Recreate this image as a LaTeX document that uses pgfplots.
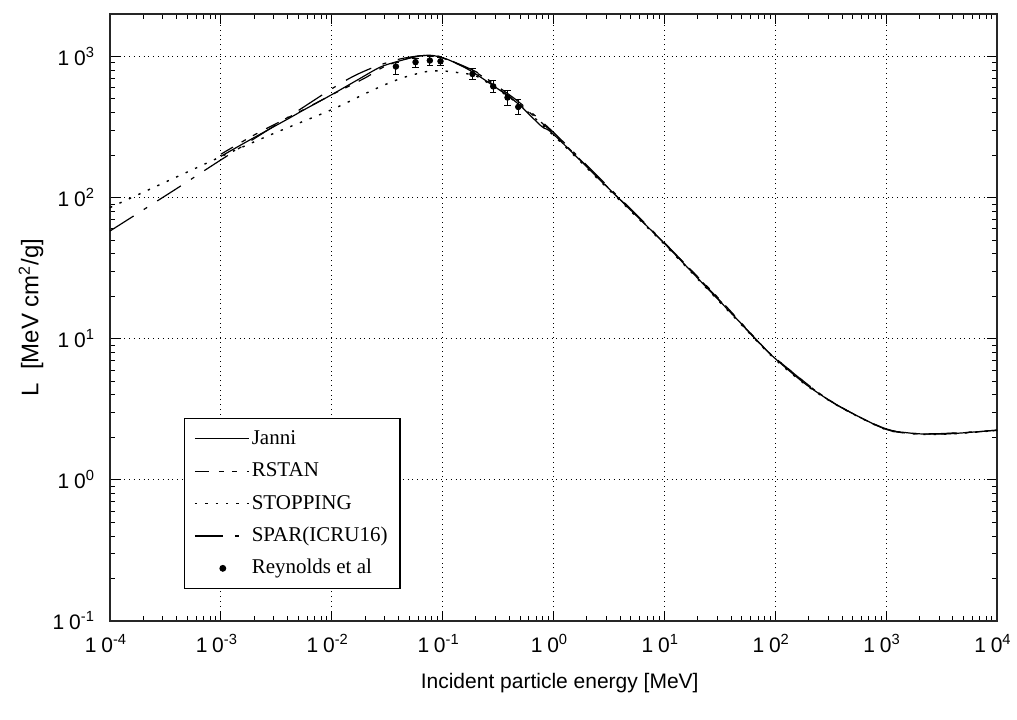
\documentclass[border=0pt]{standalone}
\usepackage{fontspec}
\setmainfont{Liberation Sans}
\newfontfamily\legfont{Liberation Serif}
\usepackage{pgfplots}
\pgfplotsset{compat=1.18}
\newcommand{\tl}[1]{1\kern2.4pt0\textsuperscript{#1}}
\begin{document}
\begin{tikzpicture}
\path[use as bounding box] (-55pt,-49pt) rectangle (453.5pt,310.5pt);
\begin{axis}[
  width=443.5pt, height=303.5pt, scale only axis,
  xmode=log, ymode=log,
  xmin=1e-4, xmax=1e4, ymin=0.1, ymax=2000,
  xtick={1e-4,1e-3,1e-2,1e-1,1,10,100,1000,10000},
  xticklabels={\tl{-4},\tl{-3},\tl{-2},\tl{-1},\tl{0},\tl{1},\tl{2},\tl{3},\tl{4}},
  ytick={0.1,1,10,100,1000},
  yticklabels={\tl{-1},\tl{0},\tl{1},\tl{2},\tl{3}},
  ticklabel style={font=\fontsize{10.5}{12}\selectfont},
  xticklabel style={yshift=-3pt, xshift=-2pt},
  yticklabel style={xshift=-4pt},
  grid=major,
  major grid style={dotted, black, line width=0.5pt},
  tick align=inside,
  major tick length=5pt, minor tick length=2.5pt,
  every tick/.style={black, line width=0.5pt},
  axis line style={line width=0.7pt, black!85},
  xlabel={Incident particle energy [MeV]},
  ylabel={L\ \ [MeV cm\textsuperscript{2}/g]},
  xlabel style={font=\fontsize{10.5}{12}\selectfont, at={(axis description cs:0.507,-0.102)}, anchor=center},
  ylabel style={font=\fontsize{12}{14}\selectfont, at={(axis description cs:-0.089,0.5)}, anchor=center},
  legend cell align=left,
  legend style={at={(axis description cs:0.083,0.053)}, anchor=south west,
    draw=black, line width=0.6pt, fill=white, font=\legfont\fontsize{10.5}{12}\selectfont,
    nodes={text height=7.5pt, text depth=2pt, inner sep=1.2pt},
    row sep=4.3pt, inner xsep=5pt, inner ysep=4pt},
  legend image code/.code={\draw[#1, line width=0.6pt] (0pt,0pt) -- (27pt,0pt);},
]
% Janni
\addplot[black, line width=0.6pt, smooth] coordinates {
(0.001,196) (0.00171,249) (0.0042,368) (0.0055,415) (0.00964,528) (0.017,681)
(0.0272,839) (0.0385,918) (0.0583,1000) (0.0767,1020) (0.0946,992) (0.1164,938)
(0.176,798) (0.286,621) (0.465,472) (0.78,320) (1.0,281) (3.01,120) (9.7,48.5)
(24,23.1) (48,13.1) (68,9.8) (95,7.5) (191,4.72) (382,3.31) (953,2.31)
(1528,2.16) (2312,2.11) (4027,2.13) (10000,2.25)};
\addlegendentry{Janni}
% RSTAN
\addplot[black, line width=0.6pt, smooth, dash pattern=on 7pt off 5pt on 2.5pt off 4pt on 2.5pt off 5pt] coordinates {
(0.001,203) (0.002,278) (0.005,402) (0.01,535) (0.02,705) (0.03,850) (0.05,975)
(0.07,1010) (0.1,975) (0.2,770) (0.3,612) (0.5,455) (1,285) (3,121) (10,47.5)
(30,19.8) (70,9.6) (100,7.3) (300,3.72) (1000,2.29) (2500,2.11) (10000,2.24)};
\addlegendentry{RSTAN}
% STOPPING
\addplot[black, line width=0.7pt, smooth, dash pattern=on 1.2pt off 4pt] coordinates {
(0.0001,85) (0.001,195) (0.003,285) (0.01,420) (0.02,545) (0.03,630) (0.045,712)
(0.0718,782) (0.1,790) (0.142,766) (0.2,728) (0.3,598) (0.5,450) (1.0,276)
(3.01,118) (9.7,47.8) (24,22.8) (48,12.9) (95,7.4) (191,4.68) (382,3.29)
(953,2.30) (1528,2.15) (2312,2.10) (4027,2.12) (10000,2.24)};
\addlegendentry{STOPPING}
% SPAR
\addplot[black, line width=0.6pt, smooth, dash pattern=on 14pt off 6pt on 2pt off 6pt] coordinates {
(0.0001,58) (0.0004,116) (0.001,185) (0.004,370) (0.01,590) (0.016,730) (0.025,850)
(0.04,955) (0.06,1008) (0.08,1015) (0.1,985) (0.2,780) (0.3,628) (0.5,468) (1,290)
(3,123) (10,48) (30,19.5) (70,9.5) (100,7.3) (300,3.7) (1000,2.3) (2500,2.12) (10000,2.25)};
\addlegendentry{SPAR(ICRU16)}
% Reynolds et al
\addplot[black, only marks, mark=*, mark size=1.4pt,
  legend image code/.code={\fill[black] (14pt,0pt) circle (1.4pt);},
  error bars/.cd, y dir=both, y explicit, error bar style={line width=0.5pt},
  error mark options={rotate=90, mark size=1.6pt}] coordinates {
(0.0379,849) += (0,63) -= (0,97)
(0.057,912) += (0,50) -= (0,73)
(0.0767,936) += (0,64) -= (0,74)
(0.0957,925) += (0,64) -= (0,63)
(0.186,752) += (0,65) -= (0,59)
(0.286,614) += (0,60) -= (0,58)
(0.385,512) += (0,60) -= (0,65)
(0.481,439) += (0,60) -= (0,49)};
\addlegendentry{Reynolds et al}
\end{axis}
\end{tikzpicture}
\end{document}
